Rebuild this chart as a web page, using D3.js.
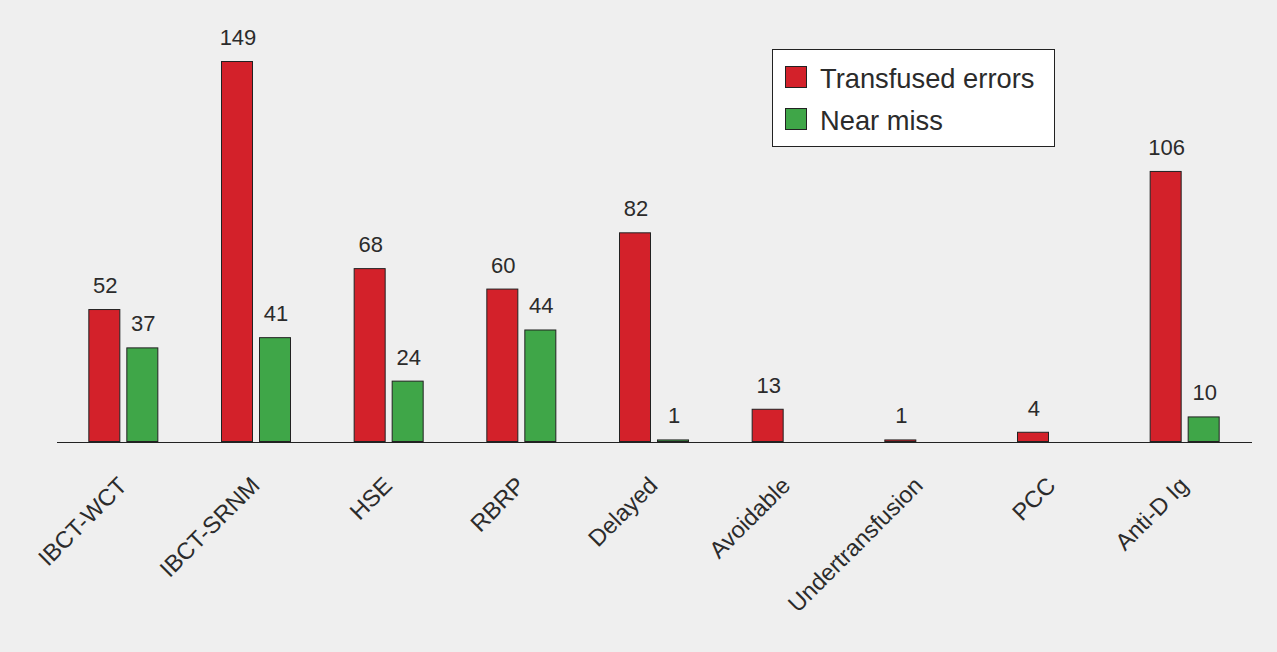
<!DOCTYPE html>
<html>
<head>
<meta charset="utf-8">
<script src="https://cdn.jsdelivr.net/npm/d3@7"></script>
<style>
  html, body { margin: 0; padding: 0; background: #efefef; }
  svg { display: block; }
  text { font-family: "Liberation Sans", Arial, Helvetica, sans-serif; fill: #2b2b2b; }
</style>
</head>
<body>
<svg id="chart" width="1277" height="652"></svg>
<script>
const categories = ["IBCT-WCT", "IBCT-SRNM", "HSE", "RBRP", "Delayed", "Avoidable", "Undertransfusion", "PCC", "Anti-D Ig"];
const seriesNames = ["Transfused errors", "Near miss"];
const transfusedErrors = [52, 149, 68, 60, 82, 13, 1, 4, 106];
const nearMiss = [37, 41, 24, 44, 1, null, null, null, 10];
const seriesColors = ["#d3212a", "#3fa648"];

const svg = d3.select("#chart");
const W = 1277, H = 652;
svg.append("rect").attr("width", W).attr("height", H).attr("fill", "#efefef");

const baseY = 442;
const x0 = d3.scaleBand().domain(categories).range([57, 1251]).padding(0);
const bw = x0.bandwidth();
const x1 = d3.scaleBand().domain(seriesNames)
  .range([bw / 2 - 35, bw / 2 + 35]).paddingInner(0.158).paddingOuter(0);
const y = d3.scaleLinear().domain([0, 149]).range([baseY, 61]);

const seriesData = [transfusedErrors, nearMiss];
const rows = [];
categories.forEach((c, i) => {
  seriesNames.forEach((s, j) => {
    const v = seriesData[j][i];
    if (v != null) rows.push({ cat: c, series: s, value: v, color: seriesColors[j] });
  });
});

const g = svg.append("g");
g.selectAll("rect.bar").data(rows).enter().append("rect")
  .attr("class", "bar")
  .attr("x", d => x0(d.cat) + x1(d.series) + 0.5)
  .attr("y", d => y(d.value) + 0.5)
  .attr("width", x1.bandwidth() - 1)
  .attr("height", d => Math.max(0, baseY - y(d.value) - 1))
  .attr("fill", d => d.color)
  .attr("stroke", "#222")
  .attr("stroke-width", 1);

g.selectAll("text.val").data(rows).enter().append("text")
  .attr("class", "val")
  .attr("x", d => x0(d.cat) + x1(d.series) + x1.bandwidth() / 2 + 1)
  .attr("y", d => y(d.value) - 16)
  .attr("text-anchor", "middle")
  .attr("font-size", 22)
  .text(d => d.value);

// axis line
const axis = d3.axisBottom(x0).tickSize(0).tickFormat("");
const ax = svg.append("g").attr("transform", `translate(0,${baseY})`).call(axis);
ax.select(".domain").attr("stroke", "#222").attr("stroke-width", 1.2).attr("d", "M57,0.5H1252");

// category labels
svg.selectAll("text.cat").data(categories).enter().append("text")
  .attr("class", "cat")
  .attr("text-anchor", "end")
  .attr("font-size", 23.5)
  .attr("transform", d => `translate(${x0(d) + bw / 2 + 5},487) rotate(-45)`)
  .text(d => d);

// legend
const lg = svg.append("g");
lg.append("rect").attr("x", 772.5).attr("y", 49.5).attr("width", 282).attr("height", 97)
  .attr("fill", "#ffffff").attr("stroke", "#222").attr("stroke-width", 1);
seriesNames.forEach((s, i) => {
  lg.append("rect").attr("x", 785.5).attr("y", 66.5 + i * 42).attr("width", 21).attr("height", 21)
    .attr("fill", seriesColors[i]).attr("stroke", "#222").attr("stroke-width", 1);
  lg.append("text").attr("x", 820).attr("y", 88 + i * 42).attr("font-size", 27.3).text(s);
});
</script>
</body>
</html>
